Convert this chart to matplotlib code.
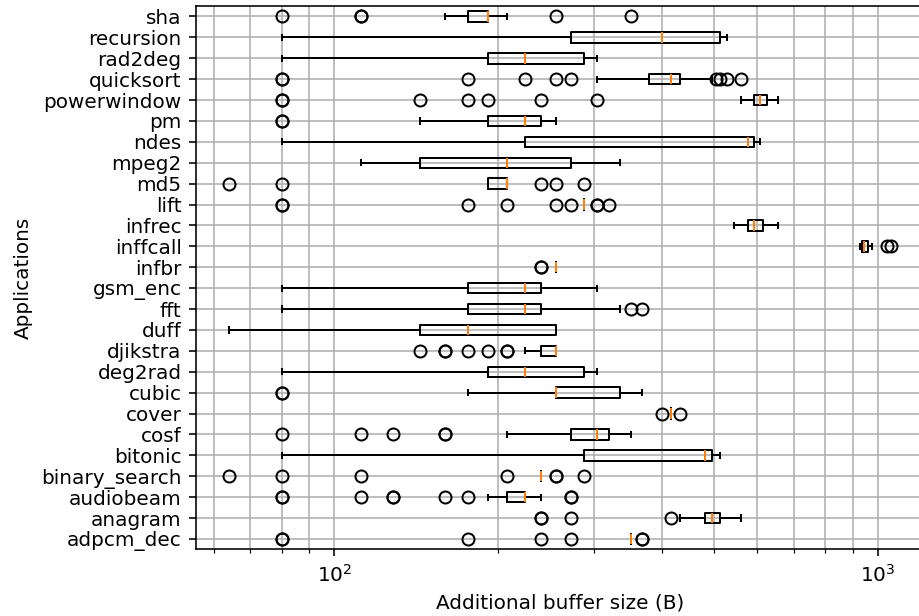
import matplotlib
matplotlib.use('Agg')
import matplotlib.pyplot as plt

# applications, bottom to top
apps = ['adpcm_dec', 'anagram', 'audiobeam', 'binary_search', 'bitonic', 'cosf',
        'cover', 'cubic', 'deg2rad', 'djikstra', 'duff', 'fft', 'gsm_enc', 'infbr',
        'inffcall', 'infrec', 'lift', 'md5', 'mpeg2', 'ndes', 'pm', 'powerwindow',
        'quicksort', 'rad2deg', 'recursion', 'sha']

# box statistics per application (bytes)
whislo = [352, 432, 192, 240, 80, 208, 416, 176, 80, 224, 64, 80, 80, 256,
          928, 544, 288, 192, 112, 80, 144, 560, 304, 80, 80, 160]
q1 = [352, 480, 208, 240, 288, 272, 416, 256, 192, 240, 144, 176, 176, 256,
      936, 576, 288, 192, 144, 224, 192, 592, 380, 192, 272, 176]
med = [352, 496, 224, 240, 480, 304, 416, 256, 224, 256, 176, 224, 224, 256,
       944, 592, 288, 208, 208, 576, 224, 608, 416, 224, 400, 192]
q3 = [352, 512, 224, 240, 496, 320, 416, 336, 288, 256, 256, 240, 240, 256,
      960, 614, 288, 208, 272, 592, 240, 624, 432, 288, 512, 192]
whishi = [352, 560, 240, 240, 512, 352, 416, 368, 304, 256, 256, 336, 304, 256,
          976, 656, 288, 208, 336, 608, 256, 656, 496, 304, 528, 208]
fliers = [
    [80, 80, 176, 240, 272, 368, 368],
    [240, 240, 272, 416],
    [80, 80, 112, 128, 128, 160, 176, 272, 272],
    [64, 80, 112, 208, 256, 256, 288],
    [],
    [80, 112, 128, 160, 160],
    [400, 432],
    [80, 80],
    [],
    [144, 160, 160, 176, 192, 208, 208],
    [],
    [352, 368],
    [],
    [240, 240],
    [1040, 1056],
    [],
    [80, 80, 176, 208, 256, 272, 304, 304, 320],
    [64, 80, 240, 256, 288],
    [],
    [],
    [80, 80],
    [80, 80, 144, 176, 192, 240, 304],
    [80, 80, 176, 224, 256, 272, 504, 512, 528, 560],
    [],
    [],
    [80, 112, 112, 256, 352],
]

stats = []
for i in range(len(apps)):
    stats.append({'label': apps[i], 'whislo': whislo[i], 'q1': q1[i], 'med': med[i],
                  'q3': q3[i], 'whishi': whishi[i], 'fliers': fliers[i]})

fig = plt.figure(figsize=(919 / 144, 616 / 144), dpi=144)
ax = fig.add_axes([0.213, 0.1081, 0.7924, 0.8821])
ax.set_xscale('log')
ax.bxp(stats, orientation='horizontal')
ax.set_ylim(0.5, len(apps) + 0.5)
ax.grid(True, which='both')
ax.set_xlabel('Additional buffer size (B)')
ax.set_ylabel('Applications')

fig.savefig('out.png', dpi=144)
